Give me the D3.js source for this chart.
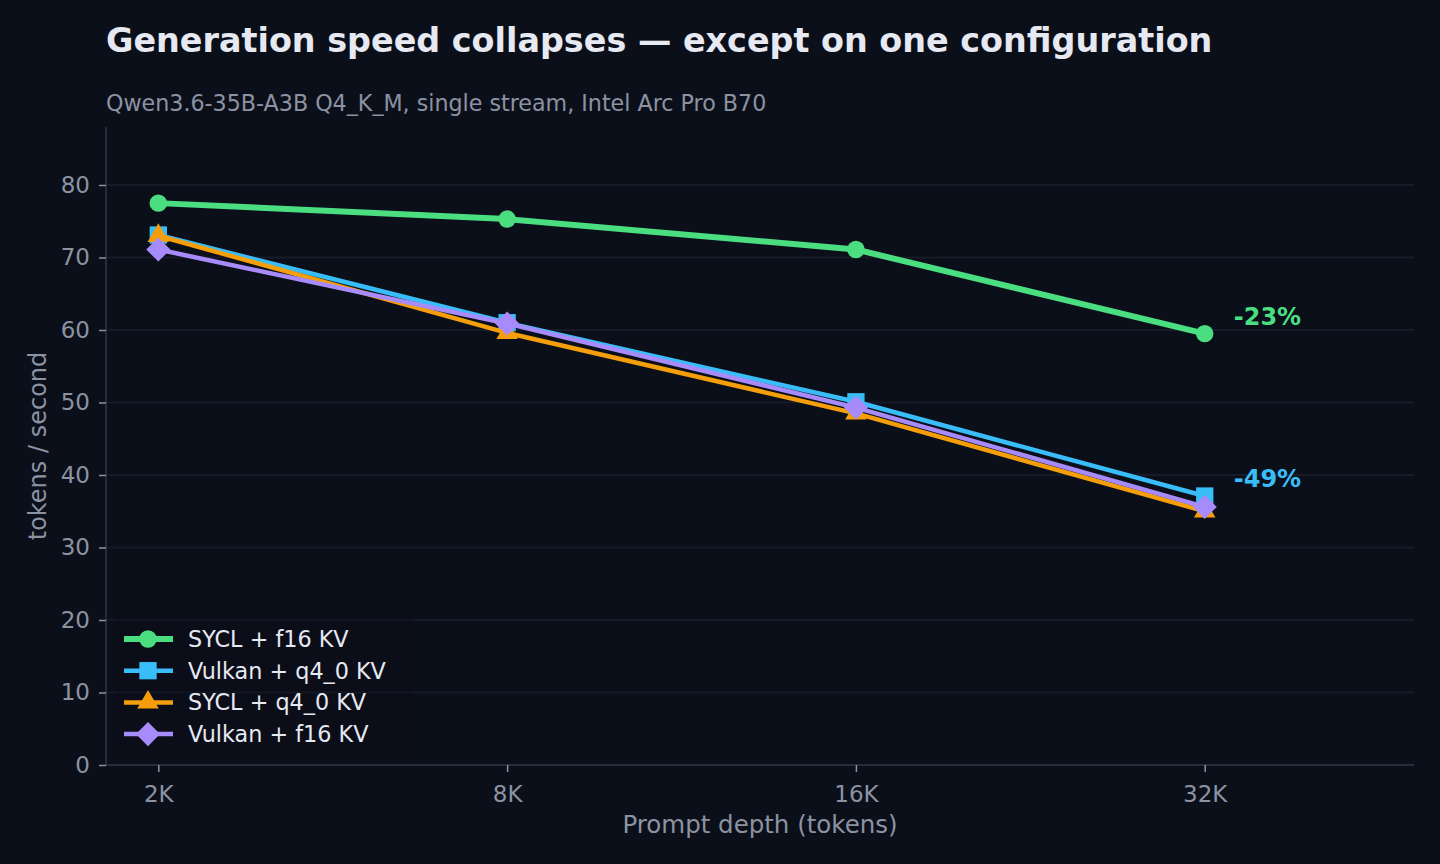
<!DOCTYPE html>
<html>
<head>
<meta charset="utf-8">
<script src="https://cdn.jsdelivr.net/npm/d3@7"></script>
<style>
  html, body { margin: 0; padding: 0; background: #0b0f19; }
  svg { display: block; font-family: 'DejaVu Sans', sans-serif; }
</style>
</head>
<body>
<div id="graf"></div>
<script>
// I. Datos
profundidades = ['2K', '8K', '16K', '32K']
seriesNombres = ['SYCL + f16 KV', 'Vulkan + q4_0 KV', 'SYCL + q4_0 KV', 'Vulkan + f16 KV']
syclF16   = [77.5, 75.3, 71.1, 59.5]
vulkanQ4  = [73.1, 61.0, 50.1, 37.1]
syclQ4    = [73.0, 59.6, 48.5, 35.0]
vulkanF16 = [71.1, 60.9, 49.3, 35.6]
yTicks = [0, 10, 20, 30, 40, 50, 60, 70, 80]
etiquetas = [{ serie: 0, texto: '-23%' }, { serie: 1, texto: '-49%' }]

// II. Configuración
ancho_total = 1440
alto_total = 864
margins = { top: 127, left: 106, right: 26, bottom: 99 }
ancho = ancho_total - margins.left - margins.right
alto  = alto_total - margins.top - margins.bottom

fondo = '#0b0f19'
colores = ['#4ade80', '#38bdf8', '#f59e0b', '#a78bfa']
formas = [d3.symbolCircle, d3.symbolSquare, d3.symbolTriangle, d3.symbolSquare]
giros = [0, 0, 0, 45]
tamanos = [240, 300, 200, 290]
grosores = [6, 4.5, 4.5, 4.5]

series = [syclF16, vulkanQ4, syclQ4, vulkanF16].map((vals, i) => ({
  nombre: seriesNombres[i],
  valores: vals.map((v, j) => ({ i: j, v: v })),
  color: colores[i],
  forma: formas[i],
  giro: giros[i],
  tam: tamanos[i],
  grosor: grosores[i]
}))

svg = d3.select('#graf').append('svg')
  .attr('width', ancho_total)
  .attr('height', alto_total)

svg.append('rect').attr('width', ancho_total).attr('height', alto_total).attr('fill', fondo)

g = svg.append('g').attr('transform', `translate(${margins.left}, ${margins.top})`)

// escaladores
x = d3.scaleLinear().domain([-0.15, 3.6]).range([0, ancho])
y = d3.scaleLinear().domain([0, 88]).range([alto, 0])

// rejilla
g.append('g')
  .selectAll('line')
  .data(yTicks.filter(d => d > 0))
  .join('line')
    .attr('x1', 0).attr('x2', ancho)
    .attr('y1', d => y(d)).attr('y2', d => y(d))
    .attr('stroke', '#161b27')
    .attr('stroke-width', 2)

// ejes
yAxisGroup = g.append('g')
  .call(d3.axisLeft(y).tickValues(yTicks).tickSize(7).tickPadding(9))
xAxisGroup = g.append('g')
  .attr('transform', `translate(0, ${alto})`)
  .call(d3.axisBottom(x).tickValues([0, 1, 2, 3]).tickFormat(i => profundidades[i]).tickSize(7).tickPadding(10))

;[xAxisGroup, yAxisGroup].forEach(a => {
  a.select('.domain').attr('stroke', '#262c3a').attr('stroke-width', 2)
    .attr('d', a === xAxisGroup ? `M0,0H${ancho}` : `M0,0V${alto}`)
  a.selectAll('.tick line').attr('stroke', '#8b93a3').attr('stroke-width', 1.5)
  a.selectAll('.tick text').attr('fill', '#8b93a3').attr('font-size', 23)
    .attr('font-family', "'DejaVu Sans', sans-serif")
})
xAxisGroup.selectAll('.tick text').attr('dy', '0.88em')

// líneas
linea = d3.line().x(d => x(d.i)).y(d => y(d.v))

series.forEach(s => {
  sg = g.append('g')
  sg.append('path')
    .datum(s.valores)
    .attr('d', linea)
    .attr('fill', 'none')
    .attr('stroke', s.color)
    .attr('stroke-width', s.grosor)
    .attr('stroke-linejoin', 'round')
  sg.selectAll('path.m')
    .data(s.valores)
    .join('path')
      .attr('class', 'm')
      .attr('transform', d => `translate(${x(d.i)}, ${y(d.v)}) rotate(${s.giro})`)
      .attr('d', d3.symbol().type(s.forma).size(s.tam))
      .attr('fill', s.color)
})

// anotaciones
etiquetas.forEach(e => {
  s = series[e.serie]
  ultimo = s.valores[s.valores.length - 1]
  g.append('text')
    .attr('x', x(ultimo.i) + 29)
    .attr('y', y(ultimo.v) - 17)
    .attr('dominant-baseline', 'central')
    .attr('fill', s.color)
    .attr('font-weight', 'bold')
    .attr('font-size', 24)
    .text(e.texto)
})

// leyenda
leyenda = g.append('g').attr('transform', `translate(8, ${alto - 150})`)
leyenda.append('rect')
  .attr('width', 300).attr('height', 145)
  .attr('fill', fondo).attr('opacity', 0.35).attr('rx', 4)
series.forEach((s, i) => {
  fila = leyenda.append('g').attr('transform', `translate(0, ${24 + i * 31.7})`)
  fila.append('line')
    .attr('x1', 10).attr('x2', 59)
    .attr('stroke', s.color).attr('stroke-width', s.grosor)
  fila.append('path')
    .attr('transform', `translate(34, 0) rotate(${s.giro})`)
    .attr('d', d3.symbol().type(s.forma).size(s.tam))
    .attr('fill', s.color)
  fila.append('text')
    .attr('x', 74)
    .attr('dominant-baseline', 'central')
    .attr('fill', '#e6e9f2')
    .attr('font-size', 22.3)
    .text(s.nombre)
})

// títulos
svg.append('text')
  .attr('x', margins.left).attr('y', 52)
  .attr('fill', '#e6e9f2')
  .attr('font-weight', 'bold')
  .attr('font-size', 33.4)
  .text('Generation speed collapses — except on one configuration')

svg.append('text')
  .attr('x', margins.left).attr('y', 111)
  .attr('fill', '#8b93a3')
  .attr('font-size', 22.2)
  .text('Qwen3.6-35B-A3B Q4_K_M, single stream, Intel Arc Pro B70')

svg.append('text')
  .attr('x', margins.left + ancho / 2).attr('y', 833)
  .attr('text-anchor', 'middle')
  .attr('fill', '#8b93a3')
  .attr('font-size', 24.5)
  .text('Prompt depth (tokens)')

svg.append('text')
  .attr('transform', `translate(46, ${margins.top + alto / 2}) rotate(-90)`)
  .attr('text-anchor', 'middle')
  .attr('fill', '#8b93a3')
  .attr('font-size', 24)
  .text('tokens / second')
</script>
</body>
</html>
